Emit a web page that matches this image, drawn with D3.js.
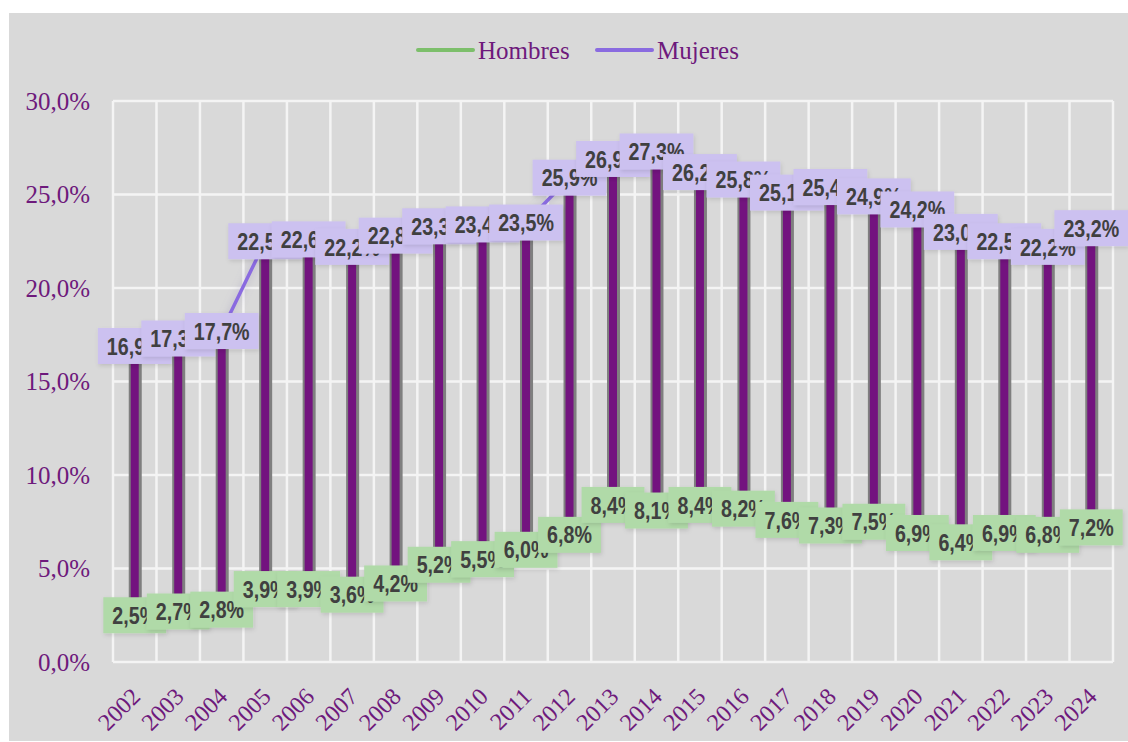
<!DOCTYPE html>
<html>
<head>
<meta charset="utf-8">
<script src="https://cdn.jsdelivr.net/npm/d3@7"></script>
<style>
  html, body { margin: 0; padding: 0; background: #ffffff; }
  svg { display: block; }
</style>
</head>
<body>
<div id="chart"></div>
<script>
// Data
const years = ['2002', '2003', '2004', '2005', '2006', '2007', '2008', '2009', '2010', '2011', '2012',
    '2013', '2014', '2015', '2016', '2017', '2018', '2019', '2020', '2021', '2022', '2023', '2024'];
const hombres = [2.5, 2.7, 2.8, 3.9, 3.9, 3.6, 4.2, 5.2, 5.5, 6.0, 6.8, 8.4, 8.1, 8.4, 8.2, 7.6, 7.3, 7.5, 6.9, 6.4, 6.9, 6.8, 7.2];
const mujeres = [16.9, 17.3, 17.7, 22.5, 22.6, 22.2, 22.8, 23.3, 23.4, 23.5, 25.9, 26.9, 27.3, 26.2, 25.8, 25.1, 25.4, 24.9, 24.2, 23.0, 22.5, 22.2, 23.2];
const yTicks = [0, 5, 10, 15, 20, 25, 30];
const seriesNames = ['Hombres', 'Mujeres'];

const W = 1128, H = 742;
const plot = { left: 113, right: 1113, top: 101, bottom: 662 };
const purpleText = '#6e1a7c';
const labelFont = "'Liberation Sans Narrow', 'Arial Narrow', 'Liberation Sans', sans-serif";
const serifFont = "'Liberation Serif', 'Times New Roman', serif";
const narrow = 0.82; // squeeze the bold label font to look condensed

const fmt = v => v.toFixed(1).replace('.', ',') + '%';

const svg = d3.select('#chart').append('svg')
    .attr('width', W)
    .attr('height', H);

const defs = svg.append('defs');
const glow = defs.append('filter').attr('id', 'glow')
    .attr('x', '-50%').attr('y', '-50%').attr('width', '200%').attr('height', '200%');
glow.append('feGaussianBlur').attr('in', 'SourceAlpha').attr('stdDeviation', 4).attr('result', 'b');
glow.append('feFlood').attr('flood-color', '#8a80b0').attr('flood-opacity', 0.45);
glow.append('feComposite').attr('in2', 'b').attr('operator', 'in').attr('result', 's');
const gm = glow.append('feMerge');
gm.append('feMergeNode').attr('in', 's');
gm.append('feMergeNode').attr('in', 'SourceGraphic');

const shadow = defs.append('filter').attr('id', 'boxshadow')
    .attr('x', '-20%').attr('y', '-30%').attr('width', '140%').attr('height', '160%');
shadow.append('feGaussianBlur').attr('in', 'SourceAlpha').attr('stdDeviation', 2).attr('result', 'b');
shadow.append('feOffset').attr('in', 'b').attr('dx', 1).attr('dy', 2).attr('result', 'o');
shadow.append('feFlood').attr('flood-color', '#000').attr('flood-opacity', 0.12);
shadow.append('feComposite').attr('in2', 'o').attr('operator', 'in').attr('result', 's');
const sm = shadow.append('feMerge');
sm.append('feMergeNode').attr('in', 's');
sm.append('feMergeNode').attr('in', 'SourceGraphic');

// Background
svg.append('rect')
    .attr('x', 9).attr('y', 13)
    .attr('width', W - 9).attr('height', H - 14)
    .attr('fill', '#d9d9d9');

// Scales
const x = d3.scaleBand().domain(years).range([plot.left, plot.right]);
const y = d3.scaleLinear().domain([0, 30]).range([plot.bottom, plot.top]);
const cx = d => x(d) + x.bandwidth() / 2;

// Gridlines
const grid = svg.append('g').attr('stroke', '#f4f4f4').attr('stroke-width', 2.5);
grid.selectAll('line.h')
    .data(yTicks)
    .join('line')
    .attr('class', 'h')
    .attr('x1', plot.left).attr('x2', plot.right)
    .attr('y1', d => y(d)).attr('y2', d => y(d));
grid.selectAll('line.v')
    .data(years.concat(['end']))
    .join('line')
    .attr('class', 'v')
    .attr('x1', d => d === 'end' ? plot.right : x(d))
    .attr('x2', d => d === 'end' ? plot.right : x(d))
    .attr('y1', plot.top).attr('y2', plot.bottom);

// Y axis labels
svg.append('g')
    .selectAll('text')
    .data(yTicks)
    .join('text')
    .attr('x', 90)
    .attr('y', d => y(d))
    .attr('dy', '0.35em')
    .attr('text-anchor', 'end')
    .attr('fill', purpleText)
    .style('font-family', serifFont)
    .style('font-size', '25px')
    .text(d => d.toFixed(1).replace('.', ',') + '%');

// X axis labels
svg.append('g')
    .selectAll('text')
    .data(years)
    .join('text')
    .attr('transform', d => `translate(${cx(d) + 7},${plot.bottom + 36}) rotate(-45)`)
    .attr('text-anchor', 'end')
    .attr('fill', purpleText)
    .style('font-family', serifFont)
    .style('font-size', '24px')
    .text(d => d);

// Series lines
const line = vals => d3.line()
    .x((d, i) => cx(years[i]))
    .y(d => y(d))(vals);

svg.append('path')
    .attr('d', line(hombres))
    .attr('fill', 'none')
    .attr('stroke', '#7dbf6b')
    .attr('stroke-width', 3.5)
    .attr('filter', 'url(#glow)');

svg.append('path')
    .attr('d', line(mujeres))
    .attr('fill', 'none')
    .attr('stroke', '#8a6be0')
    .attr('stroke-width', 3.5)
    .attr('filter', 'url(#glow)');

// High-low bars
const bars = svg.append('g');
bars.selectAll('line.sh')
    .data(years)
    .join('line')
    .attr('class', 'sh')
    .attr('x1', d => cx(d) + 0.5).attr('x2', d => cx(d) + 0.5)
    .attr('y1', (d, i) => y(hombres[i])).attr('y2', (d, i) => y(mujeres[i]))
    .attr('stroke', '#7f7f7f')
    .attr('stroke-width', 13);
bars.selectAll('line.bar')
    .data(years)
    .join('line')
    .attr('class', 'bar')
    .attr('x1', d => cx(d)).attr('x2', d => cx(d))
    .attr('y1', (d, i) => y(hombres[i])).attr('y2', (d, i) => y(mujeres[i]))
    .attr('stroke', '#73137f')
    .attr('stroke-width', 8);

// Data labels
function drawLabels(vals, fill) {
    const g = svg.append('g');
    vals.forEach((v, i) => {
        const lg = g.append('g')
            .attr('transform', `translate(${cx(years[i])},${y(v)})`);
        const t = lg.append('text')
            .attr('text-anchor', 'middle')
            .attr('dy', '0.36em')
            .attr('transform', `scale(${narrow},1)`)
            .attr('fill', '#404040')
            .style('font-family', labelFont)
            .style('font-weight', 'bold')
            .style('font-size', '24px')
            .text(fmt(v));
        const w = t.node().getComputedTextLength() * narrow + 18;
        lg.insert('rect', 'text')
            .attr('x', -w / 2).attr('y', -18)
            .attr('width', w).attr('height', 36)
            .attr('fill', fill)
            .attr('filter', 'url(#boxshadow)');
    });
}
drawLabels(hombres, '#b0daa8');
drawLabels(mujeres, '#ccc1f0');

// Legend
const legendItems = [
    { name: seriesNames[0], color: '#7dbf6b', x: 418 },
    { name: seriesNames[1], color: '#8a6be0', x: 597 }
];
const lg = svg.append('g');
legendItems.forEach(it => {
    lg.append('line')
        .attr('x1', it.x).attr('x2', it.x + 55)
        .attr('y1', 50).attr('y2', 50)
        .attr('stroke', it.color)
        .attr('stroke-width', 4)
        .attr('stroke-linecap', 'round');
    lg.append('text')
        .attr('x', it.x + 60)
        .attr('y', 50)
        .attr('dy', '0.35em')
        .attr('fill', purpleText)
        .style('font-family', serifFont)
        .style('font-size', '25px')
        .text(it.name);
});
</script>
</body>
</html>
